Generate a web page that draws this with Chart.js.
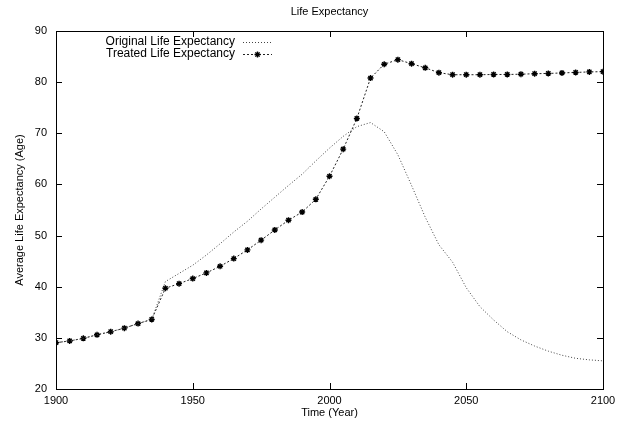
<!DOCTYPE html>
<html>
<head>
<meta charset="utf-8">
<script src="https://cdn.jsdelivr.net/npm/chart.js@4/dist/chart.umd.min.js"></script>
<style>
  html,body{margin:0;padding:0;background:#fff;}
  #wrap{width:626px;height:428px;}
</style>
</head>
<body>
<div id="wrap"><canvas id="c" width="626" height="428"></canvas></div>
<script>
const chartTitle = "Life Expectancy";
const xTitle = "Time (Year)";
const yTitle = "Average Life Expectancy (Age)";
const seriesNames = ["Original Life Expectancy", "Treated Life Expectancy"];

const years = [1900,1905,1910,1915,1920,1925,1930,1935,1940,1945,1950,1955,1960,1965,1970,1975,1980,1985,1990,1995,2000,2005,2010,2015,2020,2025,2030,2035,2040,2045,2050,2055,2060,2065,2070,2075,2080,2085,2090,2095,2100];

const originalLE = [29.05,29.4,29.9,30.6,31.2,31.9,32.8,33.6,41.0,42.6,44.2,46.2,48.4,50.7,52.8,55.2,57.5,59.8,62.0,64.6,67.1,69.4,71.3,72.1,70.3,65.8,59.8,53.6,48.2,44.8,39.8,36.1,33.5,31.2,29.6,28.4,27.4,26.6,26.0,25.7,25.5];

const treatedLE = [29.05,29.4,29.9,30.6,31.2,31.9,32.8,33.6,39.7,40.6,41.6,42.7,44.0,45.5,47.2,49.1,51.1,53.0,54.6,57.1,61.6,66.9,72.9,80.8,83.5,84.4,83.6,82.8,81.85,81.45,81.45,81.45,81.5,81.5,81.55,81.65,81.7,81.8,81.9,82.0,82.05];

const xTicks = [1900,1950,2000,2050,2100];
const yTicks = [20,30,40,50,60,70,80,90];

const FONT = "'Liberation Sans', Arial, Helvetica, sans-serif";

const toXY = (vals) => years.map((y, i) => ({x: y, y: vals[i]}));

const framePlugin = {
  id: 'frame',
  afterDatasetsDraw(chart) {
    const {ctx, chartArea: a, scales} = chart;
    ctx.save();
    // title
    ctx.fillStyle = '#000';
    ctx.font = "11px " + FONT;
    ctx.textAlign = 'center';
    ctx.textBaseline = 'middle';
    ctx.fillText(chartTitle, (a.left + a.right) / 2, 12);
    // inward ticks
    ctx.strokeStyle = '#000';
    ctx.lineWidth = 1;
    ctx.beginPath();
    const tl = 6;
    xTicks.forEach(v => {
      const px = Math.round(scales.x.getPixelForValue(v)) + 0.5;
      ctx.moveTo(px, a.bottom); ctx.lineTo(px, a.bottom - tl);
      ctx.moveTo(px, a.top); ctx.lineTo(px, a.top + tl);
    });
    yTicks.forEach(v => {
      const py = Math.round(scales.y.getPixelForValue(v)) + 0.5;
      ctx.moveTo(a.left, py); ctx.lineTo(a.left + tl, py);
      ctx.moveTo(a.right, py); ctx.lineTo(a.right - tl, py);
    });
    ctx.stroke();
    // border box
    ctx.strokeRect(Math.round(a.left) + 0.5, Math.round(a.top) + 0.5,
                   Math.round(a.right - a.left), Math.round(a.bottom - a.top));
    // legend
    const lx1 = 243, lx2 = 272, tx = 235;
    const rows = [42, 54];
    chart.data.datasets.forEach((ds, i) => {
      const yy = rows[i] + 0.5;
      ctx.fillStyle = '#000';
      ctx.font = "12px " + FONT;
      ctx.textAlign = 'right';
      ctx.textBaseline = 'middle';
      ctx.fillText(ds.label, tx, rows[i]);
      ctx.save();
      ctx.strokeStyle = ds.borderColor;
      ctx.lineWidth = ds.borderWidth;
      ctx.setLineDash(ds.borderDash || []);
      ctx.beginPath();
      ctx.moveTo(lx1, yy); ctx.lineTo(lx2, yy);
      ctx.stroke();
      ctx.restore();
      if (ds.pointRadius > 0) {
        const cx = (lx1 + lx2) / 2, r = ds.pointRadius;
        ctx.save();
        ctx.strokeStyle = '#000';
        ctx.lineWidth = ds.pointBorderWidth;
        ctx.beginPath();
        for (let k = 0; k < 4; k++) {
          const ang = k * Math.PI / 4;
          ctx.moveTo(cx - r * Math.cos(ang), yy - r * Math.sin(ang));
          ctx.lineTo(cx + r * Math.cos(ang), yy + r * Math.sin(ang));
        }
        ctx.stroke();
        ctx.restore();
      }
    });
    ctx.restore();
  }
};

new Chart(document.getElementById('c'), {
  type: 'line',
  data: {
    datasets: [
      {
        label: seriesNames[0],
        data: toXY(originalLE),
        borderColor: '#444',
        borderWidth: 1,
        borderDash: [1, 2],
        pointRadius: 0,
        pointBorderWidth: 0,
        fill: false,
        tension: 0
      },
      {
        label: seriesNames[1],
        data: toXY(treatedLE),
        borderColor: '#222',
        borderWidth: 1,
        borderDash: [2, 2],
        pointStyle: 'star',
        pointRadius: 3,
        pointBorderWidth: 1.4,
        pointBorderColor: '#000',
        pointBackgroundColor: '#000',
        fill: false,
        tension: 0
      }
    ]
  },
  options: {
    responsive: false,
    animation: false,
    devicePixelRatio: 1,
    layout: { padding: { left: 0, right: 23, top: 31, bottom: 0 } },
    plugins: {
      legend: { display: false },
      title: { display: false },
      tooltip: { enabled: false }
    },
    scales: {
      x: {
        type: 'linear',
        min: 1900, max: 2100,
        afterBuildTicks: (s) => { s.ticks = xTicks.map(v => ({value: v})); },
        ticks: { color: '#000', font: { family: FONT, size: 11 }, padding: 5, maxRotation: 0,
                 callback: (v) => String(v) },
        grid: { display: false, drawTicks: false },
        border: { display: false },
        title: { display: true, text: xTitle, color: '#000', font: { family: FONT, size: 11 }, padding: { top: 0, bottom: 8 } },
        afterFit: (s) => { s.height = 39; }
      },
      y: {
        type: 'linear',
        min: 20, max: 90,
        afterBuildTicks: (s) => { s.ticks = yTicks.map(v => ({value: v})); },
        ticks: { color: '#000', font: { family: FONT, size: 11 }, padding: 9, callback: (v) => String(v) },
        grid: { display: false, drawTicks: false },
        border: { display: false },
        title: { display: true, text: yTitle, color: '#000', font: { family: FONT, size: 11 }, padding: { top: 13, bottom: 0 } },
        afterFit: (s) => { s.width = 56; }
      }
    }
  },
  plugins: [framePlugin]
});
</script>
</body>
</html>
